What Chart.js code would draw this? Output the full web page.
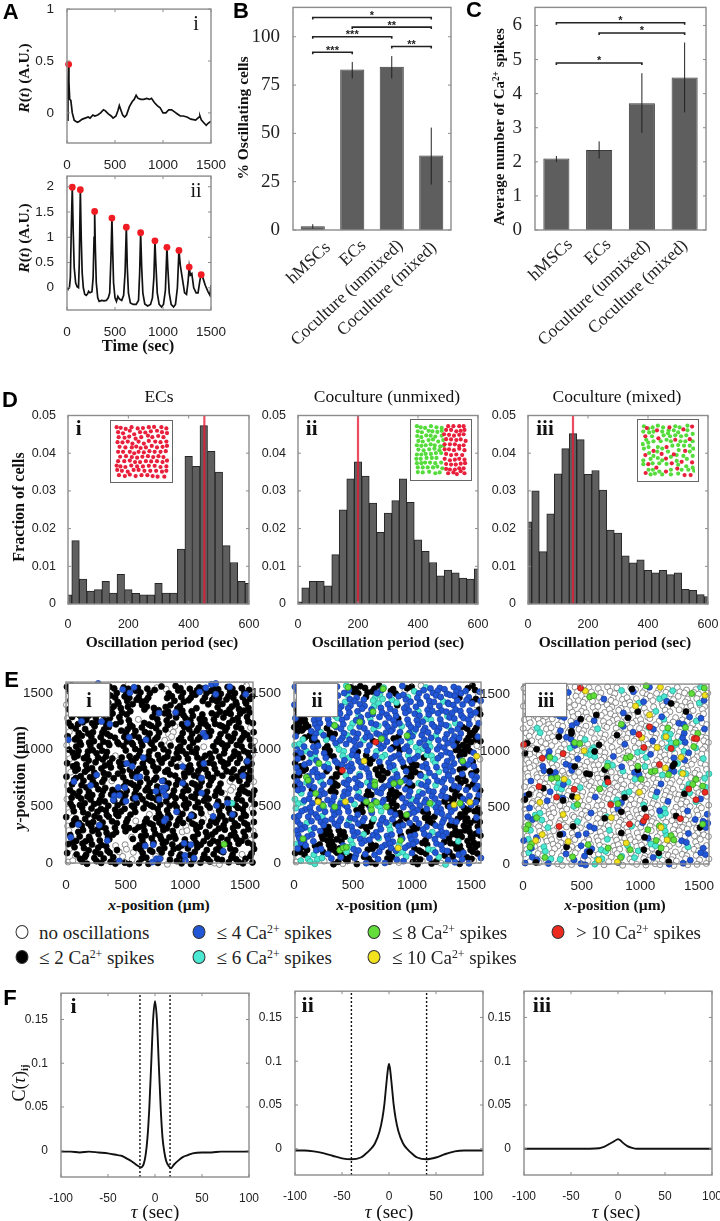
<!DOCTYPE html>
<html><head><meta charset="utf-8">
<script src="https://cdn.jsdelivr.net/npm/chart.js@4/dist/chart.umd.min.js"></script>
<style>
html,body{margin:0;padding:0;background:#fff}
#p{position:relative;width:720px;height:1221px;overflow:hidden;background:#fff}
canvas{position:absolute}
.t{position:absolute;white-space:nowrap;transform:translate(-50%,-50%);color:#111;line-height:1;font-family:"Liberation Serif",serif}
.r{transform:translate(-50%,-50%) rotate(-90deg)}
.b{font-weight:bold}
.L{font-family:"Liberation Sans",sans-serif;font-weight:bold;font-size:22px;color:#000}
.sl{position:absolute;white-space:nowrap;font-family:"Liberation Serif",serif;font-size:17.5px;color:#222;transform-origin:100% 50%;line-height:1}
.box{position:absolute;background:#fff;border:1.3px solid #8a8a8a;box-sizing:border-box;display:flex;align-items:center;justify-content:center;font:bold 20px "Liberation Serif",serif;color:#111;box-shadow:0 0 1px #777}
.ins{position:absolute;background:#fff;border:1.4px solid #666;box-sizing:border-box}
.dot{position:absolute;width:13px;height:14px;border-radius:50%;border:1.5px solid #333;box-sizing:border-box;transform:translate(-50%,-50%)}
sup{font-size:.62em;line-height:0;vertical-align:.5em}
sub{font-size:.6em;line-height:0;vertical-align:-.3em}
</style></head><body><div id="p"></div>
<script>
// ---------- A ----------
const aiTime=[3,10,17,20,28,40,55,75,90,110,130,160,190,220,240,270,290,320,350,380,400,430,460,480,510,530,545,560,580,600,620,650,680,700,720,740,770,800,830,860,880,910,940,970,1000,1030,1060,1090,1120,1150,1180,1210,1250,1290,1340,1375,1385,1400,1430,1450,1470,1500];
const aiVal=[-0.07,0.3,0.468,0.3,0.13,0.12,0.0,-0.07,-0.08,-0.09,-0.08,-0.06,-0.05,-0.04,-0.05,-0.02,-0.03,-0.02,0.0,0.03,0.02,-0.01,-0.03,-0.05,-0.03,0.02,0.07,0.03,-0.02,-0.04,-0.02,0.06,0.11,0.13,0.17,0.14,0.13,0.13,0.14,0.13,0.14,0.1,0.07,0.05,0.0,0.0,0.03,0.03,0.01,-0.01,-0.03,-0.03,-0.04,-0.06,-0.07,-0.04,-0.03,-0.07,-0.1,-0.12,-0.1,-0.08];
const aiPeakT=[17];const aiPeakV=[0.468];
const aiiTime=[0,10,25,35,45,55,65,75,90,105,120,128,139,148,158,170,185,200,215,225,240,260,272,282,288,295,305,320,335,360,385,410,430,445,458,468,475,485,500,515,530,545,570,590,605,618,628,640,660,690,720,745,757,767,778,790,810,840,870,890,905,916,925,940,960,985,1005,1025,1041,1050,1065,1085,1110,1130,1150,1166,1180,1200,1225,1245,1260,1273,1285,1300,1320,1345,1365,1385,1398,1415,1440,1470,1490,1500];
const aiiVal=[0.0,-0.02,0.0,0.2,1.2,1.99,1.1,0.4,0.1,0.02,0.0,0.5,1.94,1.0,0.3,0.0,-0.13,-0.15,-0.12,-0.07,-0.1,-0.08,0.2,1.0,1.51,0.8,0.1,-0.2,-0.27,-0.25,-0.26,-0.25,-0.2,-0.1,0.6,1.38,0.8,0.1,-0.2,-0.27,-0.17,-0.22,-0.25,-0.15,0.3,1.2,0.4,-0.1,-0.3,-0.33,-0.33,-0.25,0.3,1.09,0.4,-0.1,-0.32,-0.36,-0.33,-0.2,0.2,0.93,0.5,-0.1,-0.33,-0.38,-0.33,-0.05,0.8,0.4,-0.1,-0.33,-0.38,-0.33,0.0,0.74,0.45,0.2,-0.1,-0.13,0.1,0.41,0.25,0.28,0.0,-0.1,-0.1,0.15,0.26,0.2,0.05,-0.08,-0.15,0.05];
const aiiPeakT=[55,139,288,468,618,767,916,1041,1166,1273,1398];
const aiiPeakV=[1.99,1.94,1.51,1.38,1.2,1.09,0.93,0.8,0.74,0.41,0.26];
// ---------- B, C ----------
const cats=["hMSCs","ECs","Coculture (unmixed)","Coculture (mixed)"];
const bVals=[2,83,84.5,38.5];
const bErrHi=[3,87,90,53];
const bErrLo=[0.8,78.5,78.5,23.5];
const bBrackets=[[0,3,110,"*"],[1,3,105,"**"],[0,2,100,"***"],[2,3,95,"**"],[0,1,92,"***"]];
const cVals=[2.1,2.35,3.72,4.47];
const cErrHi=[2.17,2.6,4.6,5.5];
const cErrLo=[2.0,2.1,2.85,3.45];
const cBrackets=[[0,3,6.08,"*"],[1,3,5.78,"*"],[0,2,4.9,"*"]];
// ---------- D ----------
const dBins=[0,25,50,75,100,125,150,175,200,225,250,275,300,325,350,375,400,425,450,475,500,525,550,575,600];
const dECs=[.0024,.0168,.0066,.0034,.0038,.006,.0029,.0079,.0038,.0028,.0024,.0024,.0055,.0029,.0029,.0146,.0392,.0365,.0473,.0405,.035,.0155,.011,.006,.0055];
const dUnmixed=[.0006,.0043,.006,.006,.0048,.0131,.025,.0332,.0377,.0339,.0268,.019,.0241,.0274,.0332,.027,.017,.014,.011,.0075,.009,.0083,.0069,.0066,.0093];
const dMixed=[.0218,.03,.0139,.0239,.0345,.0412,.0452,.0436,.0344,.0354,.0302,.0196,.0188,.0128,.0109,.0117,.0089,.0083,.0089,.0078,.0083,.0039,.0036,.0025,.002];
const dMedian=[452,200,150];
// insets: positions
const insRedI=[340,116,354,118,371,122,391,116,412,120,430,119,450,116,468,115,493,116,510,120,345,133,362,137,385,128,400,140,420,133,438,134,457,130,478,128,495,133,512,136,347,150,367,152,383,148,405,155,424,150,447,145,462,150,482,146,500,150,343,167,360,168,378,165,394,172,415,165,433,172,450,163,472,165,490,167,510,165,350,183,370,185,392,185,407,182,422,187,440,185,460,180,478,185,497,183,512,180,345,200,362,200,385,200,400,205,415,200,433,202,452,198,470,200,490,200,508,198,352,217,372,215,392,218,410,220,428,217,447,215,465,218,483,215,500,218,345,232,366,232,385,230,403,235,420,235,440,232,458,233,478,232,497,235,512,230,340,247,353,250,370,252,390,247,410,250,430,250,450,248,470,248,490,252,510,250,342,262,358,265,378,268,398,262,415,262,435,265,455,265,475,265,495,268,510,265,348,280,368,283,385,278,405,283,425,280,445,280,463,283,480,285,503,285];
const insGreenII=[505,112,518,116,533,118,553,112,572,116,590,118,508,130,522,133,545,128,558,130,575,132,590,128,506,146,520,150,537,144,552,145,568,148,590,145,510,163,525,165,545,160,560,158,578,165,595,160,505,178,520,180,535,178,552,175,566,178,585,182,597,180,510,193,528,196,547,192,565,190,582,195,505,210,520,210,535,208,553,208,570,205,588,205,503,225,518,225,538,222,556,222,572,222,505,240,520,240,533,238,550,238,568,240,588,238,508,255,525,255,542,255,560,255,575,252,592,258,508,271,525,272,547,270,568,275,583,272];
const insRedII=[612,112,630,112,650,112,665,112,605,125,622,125,640,130,655,128,668,125,598,140,615,142,632,145,650,142,665,140,605,157,622,158,640,160,655,158,672,163,600,175,618,175,635,175,650,180,665,178,600,192,615,192,632,195,650,190,668,195,605,208,622,212,640,210,660,212,600,225,618,230,635,228,650,225,668,228,605,243,622,245,638,245,655,242,670,240,605,260,618,262,635,262,650,258,665,258,612,275,630,272,642,278,655,268,668,275];
const insRedIII=[487,148,527,128,570,118,618,125,648,115,532,155,590,160,640,158,560,185,515,198,543,208,585,210,624,198,487,212,558,224,612,235,648,237,497,243,578,240,525,255,597,258,558,268,488,273,622,280,643,280,492,120];
const insGreenIII=[482,114,497,122,512,118,530,112,548,118,567,128,590,114,605,118,632,112,480,132,500,135,515,132,545,132,565,138,585,128,600,135,632,128,650,140,490,160,510,148,550,145,572,148,590,145,610,148,628,145,478,175,497,170,515,165,540,165,560,160,575,165,608,165,625,165,650,165,482,190,498,185,530,185,545,190,580,180,600,178,620,180,640,180,652,190,500,205,528,200,565,200,602,195,640,200,515,215,530,222,575,218,595,212,618,215,650,215,480,230,505,225,545,230,595,232,630,225,480,243,512,240,535,240,560,242,600,245,628,250,650,255,498,262,513,262,535,268,575,262,612,262,635,262,505,278,520,275,545,278,575,278,600,275,655,265];
// ---------- E: what sits where, row by row from the top ----------
const eMapI=[
"kk.kk.oo.kk.kk.k.k.oko.kk.k.kk.kk.kk.ko.","k.kk.k.kk.k.k.kk.kk..k.kk.kk.kk.k.kk.kk.",".kk.kk.k.kk.kk.k.k...kk.k.kk.k.kk.kk.k.k","k.k.kk.kk.k.k.kkk.....k.kk..k.kk.k.k.kk.","ok.kk.k.k.kk.kk.kk...kk.k.....k.kk.kk.k.","k.kk.kk.kk.k.k..k.kk.k.kk.kk....k.k.kkk.",".kk.k.kk.k.kk.....k.kk.kk.k.k.kk.kk.k.k.","ok.kk.k.kk.k.k.o..kk.k.k.kk.kk.k.k.kk.k.","k.kk.kk.k.kk.k..kk.k.kk.k.k.kk.kk.k.k.kk",".kk.k.k.kk...kk.k.kk.k.o.kk.k.k..kk.kk.o",
"o.k.kk.kk..kk.k.kk.k.oo.k.kk.kk.kk.k.k.k","k.kk.k.k.kk.k.kk.k.k..o.k.k.k.k.k.kk.kk.",".kk.kk.kk.k.kk.k.kk.oo.kk.kk...kk.k.k.ko","o.kk.k.k.k.kk.k.k.k.k.k.k.k..o.k.kk.kk.k","k.k.kk.kk...k.kk.kk.kk.kk.kk...k.k.k.k.k",".kk.k.k.k.o..k.k.k.k.k.k.k.k.kk.kk.kk.ko","ok.kk.kk.k.k.kk.kk.kk.kk.k.kk.k.k.k.k.k.","k.k.k.k.kk.kk.k.k.k.k.k.o.k.k.kk.kk.k.kk",".kk.kk.k.k.k.k.kk.kk.k.k.kk.kk.k.k.k.kk.","ok.k.k.kk.kk.kk.k.k.kk..kk.k.k.k.kk.k.k.",
"k.kk.kk.k.k.k.kk.k.k...k.k.kk.kk.k.kk.kk",".k.k.k.k.o..kk.k.kk.kk.kk.k.k.k.k.o.k.ko","ok.kk.k.k...k.kk.k.k.k.k.k.kk.k.k..o.kk.","k.k.k.kk.kk.k.k.kk.kk.k.kk.k.k.kk.o.kk.k",".kk.kk.k.k.kk.kk.k.k.kk.k.kk.k.k.o..k.kk","ok.k.k.kk.k.k.k.k.kk.k.k.k.k.kk.k.k.kk.k","k.kk.kk.k.kk.kk.kk.k.kk.kk.k.k.kk.kk.k.k",".k.k.k.kk.k.k.k.k.kk.k.k.k.kk.k.k.k.kk.o","ok.kk.k.k.kk.kk..o.k.k.kk.k.k.o.k.kk.k.k","k.k.k.kk.k.k.k...k.kk.k.k.kk.o..kk.k.kk.",
".kk.kk.k.kk.k.o.kk.k.k.kk.k.k.kk.k.k.k.k","ok.k.k.kk.k.kk.kk.k.kk.k.o.kk.k.kk.kk.k.","o.kk.kk.k.k.k.k.k.k.k.k.oo.k.k.k.k.k.kko","k.k.k.k.kk...o.kk.kk.kk...kk.kk.k.kk.k.k",".ok.kk.k.k....k.k.k.kk.k.k.k.k.kk.k.kk.o","kk.k.k.kk.o.o..kk.k.k.k.kk.kk.k.k.k.k.kk","ok.kk.k.k.k.o.kk.k.kk.kk.k.k.k.kk.kk...k","k.k.k.kk.k.o..o.k.k.k.k.k.kk.k.k.k.k.o.k",".okk.k.k.k.o.o.kk.oo.k.kk.k.kk.kk.kk.kk.","oo.kk.kk.kk.kk.k.k.k.o.kk.k.k.koo.k.kk.k"];
const eMapII=[
"b.o.kkc.bb.ckkkk.kkc.k.bkk.ocb.bb.bb.kk.","bb.b.c.bb.bbkk.kkbb.kk.o.cbb.bb.b.bbb.kb",".b.bb.c.bb.c.b.k.cc.b.bbc.b.b.bb.bbk.b.o","o.bb.b.bb.cbb.b.c.c.cc.bb.b.bb.cb.b.bkkb","bb.b.bb.b.b.b.bb.cc.b.k.b.bb.b.b.bb.b.bo","k.bbb.c.bb.b.bb.b.b.bb.bb.c.bb.bb.bb.b.k","kk.b.bb.cb.b.c.bb.bb.b.b.bb.b.b.cb.b.bbk","bkk.bb.b.cbb.bb.c.b.bbk.b.b.cc.b.bb.bb.o","kkk.bb.bc.b.c.b.bb.b.bb.b.bb.b.bb.cb.b.b","kkkk.b.k.bb.c.bb.cc.bb.c.bb.b.bb.c.bkk.k",
"kk.bbc.kk.b.bb.b.b.bb.b.bc.bb.b.bb.b.kk.","b.kkb.bkb.bc.b.bb.bb.kk.bb.b.bc.b.bb.kkb",".c.kk.c.bb.bb.c.kb.b.bb.c.bbc.b.bbk.kkkk","ccb.bb.k.c.b.bb.b.bb.kk.b.c.bc.bb.bkkk.o","b.c.b.kk.cc.bk.b.cb.b.kbb.ccb.b.b.kkkk..","kb.bc.bkk.c.bb.k.b.c.bb.c.b.cc.b.b.kk.b.","bk.cb.b.b.bc.b.kk.c.b.b.bb.k.cb.bb.b.b.o","k.bb.c.c.bb.b.b.k.b.bb.b.kk.b.c.b.b.bbk.","bkk.b.bb.k.bb.bb.kk.bc.kkk.bb.b.bb.kk.b.","bk.bb.k.kk.b.c.b.kkk.b.bkkk.b.c.bb.b.kk.",
"kk.b.bb.kk.c.bb.b.kk.bb.kk.bc.b.bb.kk.bb","b.cb.c.bk.bb.b.cb.k.bb.bb.c.b.bb.b.kk.b.","kb.bb.b.kk.b.bb.bb.bb.b.kk.bb.c.b.bb.kkb","bb.k.b.kk.bb.c.k.bb.kk.bb.c.bb.b.kk.b.bk",".c.b.bb.b.bb.b.kk.b.kkk.b.bb.b.bb.kk.b.b","c.bb.k.bb.c.b.bb.b.bkk.b.cb.b.b.kkk.bb.k","cc.b.b.b.bb.c.kk.cb.kk.bb.bb.cb.kk.b.bb.","c.bb.bc.bb.b.kk.b.c.kk.b.bb.b.bb.bb.kk.k",".b.bb.b.bb.b.bk.b.c.bbk.bb.kk.bb.b.kk.kk","bb.b.bc.b.b.bb.b.c.b.b.kk.b.kkk.bb.kkk.b",
"b.cb.bb.bb.c.bb.k.bb.kk.b.b.kk.b.bb.kkkk",".bb.b.bk.b.bb.kkk.b.c.bb.kk.b.bb.kk.kk.k","bb.c.bkk.kk.bb.k.bb.c.b.kk.b.c.bb.kkkk.b","b.bb.kkk.kk.b.c.bb.bb.k.bb.bb.bb.kkk.kkk",".bb.b.kkkkk.c.bbb.c.bb.b.bb.k.b.kk.c.kk.","cbb.kk.kk.b.c.b.kk.bb.c.bb.kk.bb.kkk.kkk","bkk.bb.kkk.cbb.kk.b.bb.b.kk.cc.bb.kk.kk.","kkk.c.kb.kkc.b.b.bb.k.cc.b.kk.b.kk.bb.kk","o.c.cc.b.bkkb.kk.b.kkb.c.kk.b.c.bk.bkk.b","oc.cc.o.kkok.k.bkk.bk.ob.kko.kkoc.bk.bo."];
const eMapIII=[
"o.oko.o.oo.o.oo.o.o.oc.oo.ob.o.oco.o.oc.","oo.o.oo.cb.o.oo.o.oo.o.b.oo.o.oo.oo.oo.o",".o.oo.o.oo.o.oo.ob.o.oo.o.oo.cc.oo.o.o.o","o.o.oo.o.o.oo.o.o.oo.oo.cb.o.ob.o.oo.cb.","oo.o.o.oo.oo.o.oo.oo.o.o.oo.o.oo.oo.o.oo",".oo.oo.bb.o.oo.o.oo.ob.oo.o.c.oo.o.oo.o.","o.o.o.bbb.oo.o.oo.oo.oo.o.oo.bo.o.ob.oo.","oo.oo.o.o.o.o.ob.o.oo.o.oo.o.oc.o.oo.cb.o",".o.o.o.oo.bb.o.o.oo.ob.o.oo.o.oo.bb.o.oo.","o.oc.oo.b.o.oo.oc.o.o.oo.o.cb.o.o.o.oo.b","oo.c.o.o.oo.o.o.oo.oo.ob.o.oo.cc.ob.o.o.o",".o.o.oo.obb.oc.o.o.o.oo.o.o.o.cc.ob.oo.o.","oo.oo.o.o.b.oo.oo.o.ob.oo.ob.o.cccb.o.oo.","o.o.o.o.o.cb.o.c.o.o.oo.o.o.oo.cc.oo.c.oo",".oo.ob.oo.oo.cc.oo.oo.o.cc.o.oo.o.cb.oo.b","oo.o.b.o.oo.o.cc.o.b.oo.o.cb.oo.b.oo.oo.o","o.oo.oc.oo.b.oo.o.o.o.oo.oo.o.oo.ob.o.c.o",".oo.b.oo.bb.oo.oo.cc.b.oo.c.oo.o.c.oo.oo.","oo.ob.o.o.b.oo.o.oo.oc.o.oo.oo.bb.oo.o.oo","o.oo.bb.oo.o.o.oo.o.oo.bb.oo.c.o.cc.oo.cc",
".o.o.oo.oo.o.oo.o.o.oo.oc.o.oo.oo.o.oo.c","ob.oo.ocbc.o.oo.oc.o.o.oo.o.ob.o.o.c.oo.","o.o.oo.cc.ooc.oo.oo.oo.o.oo.oo.oo.oc.o.cc",".o.oob.o.o.oo.o.o.oo.cc.oo.ob.o.o.cc.oo.c","bo.o.o.cbo.oo.ob.oo.o.oo.o.oc.oo.oo.o.oo.","o.oo.b.o.o.oo.o.o.o.cb.o.oo.o.ob.ooo.cb.o",".oo.oo.o.oc.oo.oo.c.o.oo.c.oo.o.oo.o.o.oo","ob.oo.o.oo.o.o.o.o.ob.o.oo.o.bc.o.ob.oo.o","o.cc.oo.o.o.oob.oo.o.oo.oo.o.cc.o.oo.o.bb",".bb.c.o.oo.oo.o.o.c.oo.o.o.oo.o.oo.o.b.oo",
"o.o.oo.oo.oc.o.oo.o.oo.oob.oo.o.oo.oo.bb","oo.o.c.o.o.oo.bb.oo.o.oc.o.o.oc.o.oo.o.b",".c.oo.o.b.oo.bo.o.c.o.o.o.oo.oc.oo.b.oo.","o.b.oo.oo.ob.o.oo.oo.oo.o.b.o.cc.oo.o.oo","bc.o.oo.o.oo.oo.o.c.oo.oo.o.oo.oo.bb.oo.",".oo.c.oo.oo.b.o.oo.oo.c.oo.cc.oo.o.c.o.o","ob.oc.o.oo.o.bb.cc.oo.o.c.oo.oo.o.o.oob.","oc.oo.o.ob.o.b.oo.o.oc.oo.o.oc.oo.oo.obb",".bb.oc.c.ob.oo.cc.o.o.oc.oob.o.oo.ob.o.o","bo.o.b.oo.o.bb.c.oo.bo.oo.o.oo.bo.bo.o.o"];
const eRowShift=[.2,.75,.4,.95,.1,.6,.85,.3,.55,.05,.7,.35,.9,.15,.65,.45,.8,.25,.5,1,.1,.7,.3,.85,.55,.2,.95,.4,.65,.05,.75,.35,.6,.9,.15,.5,.8,.25,1,.45];
const eColShift=[.3,0,.6,.2,.7,.4,.1,.5,.8,.25,.65,.05,.45,.75,.15,.55,.35,.7,0,.5,.2,.8,.4,.1,.6,.3,.75,.05,.45,.65,.2,.55,.85,.1,.35,.7,.25,.6,0,.4];
const eIBlue=[270,1583,475,1530,570,1550,535,1500,1120,1508,1172,1545,1220,1575,1255,1583,1372,1554,1255,1487,1506,1487,780,1322,918,1328,1018,1232,130,1250,298,1247,368,1224,1150,1145,1170,1113,530,1108,670,1087,20,1087,647,928,508,878,555,852,977,850,1155,878,1518,898,257,777,592,754,620,760,1136,748,1484,770,67,718,206,684,438,666,494,666,806,724,977,704,806,660,834,666,753,632,815,632,1136,617,405,594,446,597,396,556,502,545,583,574,781,562,834,594,1261,507,1353,530,926,452,1049,417,1233,411,1395,428,837,391,823,370,103,339,279,333,39,226,346,197,664,151,731,162,990,174,1046,162,1317,104,996,67,1001,23,1074,43,726,9,759,38,787,38,446,17];
const eICyan=[1390,527];
const eIGreen=[1325,165];
const eIIRed=[693,1066,410,817];
const eIIYellow=[594,899,204,541,436,541,1356,513,1491,536,1548,942,883,133];
const eIIGreen=[458,1549,755,1535,670,1334,557,1244,345,1212,959,1123,741,1095,212,879,105,757,119,729,685,714,685,686,846,700,903,714,184,613,246,507,345,495,614,541,656,507,656,469,699,536,784,495,1152,527,954,426,1407,527,1429,899,76,213,388,113,416,133,444,139,903,199];
const eIIIRed=[107,1569,490,1555,6,1056,342,975,164,935,136,684,286,591,436,660,308,332,724,724,747,525,908,352,1027,381,1050,415,988,1145,1078,1212,1030,1030,1262,1021,1163,880,1460,1110,1480,1108,1412,663,1474,568,1551,634,1341,401];
const eIIIYellow=[532,1529,1171,1563,1551,1491,959,1396,1078,1318,1013,1116,1143,1030,1219,1125,521,1001,1347,943,1214,848,351,750,1361,799,993,634,464,588,144,545,342,438,753,410,1177,323,164,260,108,208,385,199,1228,213,880,185,645,35,804,17];
const eIIIGreen=[569,1477,603,1488,1050,1575,1545,1555,1438,1506,838,1235,1384,1206,1234,1203,1489,1154,1455,1038,1305,1073,441,1073,484,1064,229,943,880,937,914,949,719,865,979,865,1092,816,1126,822,1240,790,243,755,291,761,1007,750,654,663,1474,747,1531,689,1446,703,464,525,809,533,116,409,45,346,25,308,1064,303,1163,337,1531,352,74,179,60,150,1135,208,1262,251,1285,213,555,170,725,141,1177,141,914,127,832,58,187,58,422,63];
const eIIIBlack=[928,1546,1262,1419,1389,1347,979,1347,625,1318,894,1292,492,1281,413,1174,413,1154,306,1125,37,1067,17,978,116,1015,648,1053,611,995,801,1139,979,834,1276,865,1290,885,441,862,229,819,696,834,540,799,569,793,716,755,173,669,51,617,17,571,342,562,422,597,866,588,1375,620,1036,490,838,461,696,404,1305,424,427,332,838,274,1508,323,314,260,1036,236,1030,127,371,150,569,107,1157,98,1242,20,110,14,1044,20];
// ---------- F ----------
const fTauI=[-100,-90,-80,-70,-60,-50,-40,-35,-30,-25,-20,-17,-15,-12,-10,-8,-6,-4,-2,0,2,4,6,8,10,12,15,17,20,25,30,35,40,50,60,70,80,90,100];
const fCI=[-.001,-.001,-.002,-.001,-.002,-.003,-.005,-.006,-.009,-.012,-.016,-.018,-.019,-.015,-.005,.015,.05,.1,.15,.171,.15,.1,.05,.015,-.002,-.012,-.018,-.02,-.016,-.011,-.007,-.005,-.003,-.002,-.002,-.001,-.001,-.001,-.001];
const fTauII=[-100,-90,-80,-70,-60,-50,-40,-30,-25,-20,-15,-10,-7,-5,-3,-1,0,1,3,5,7,10,15,20,25,30,40,50,60,70,80,90,100];
const fCII=[-.002,-.002,-.003,-.005,-.008,-.011,-.012,-.01,-.006,-.001,.006,.02,.035,.05,.072,.092,.097,.092,.072,.05,.035,.02,.006,-.001,-.006,-.01,-.012,-.01,-.006,-.003,-.002,-.002,-.002];
const fTauIII=[-100,-60,-30,-20,-15,-10,-5,-2,0,2,5,10,15,20,30,60,100];
const fCIII=[0,0,0,.0005,.002,.005,.008,.01,.011,.01,.007,.003,.001,0,0,0,0];
const fMarkI=[-16,16];const fMarkII=[-40,40];
const fTicksY=[0,.05,.1,.15];const fTicksX=[-100,-50,0,50,100];
const legendRows=[["no oscillations","#fff",21.6,932],["≤ 2 Ca<sup>2+</sup> spikes","#000",21.6,956.7],["≤ 4 Ca<sup>2+</sup> spikes","#2156d6",199,932],["≤ 6 Ca<sup>2+</sup> spikes","#4be8d4",199,956.7],["≤ 8 Ca<sup>2+</sup> spikes","#62dd3a",374.4,932],["≤ 10 Ca<sup>2+</sup> spikes","#f2e21e",374.4,956.7],["&gt; 10 Ca<sup>2+</sup> spikes","#ec2a20",558.4,932]];

// ---------- helpers ----------
const page=document.getElementById('p');
Chart.defaults.animation=false;
Chart.defaults.responsive=false;
Chart.defaults.devicePixelRatio=1;
Chart.defaults.font.family='"Liberation Sans",sans-serif';
Chart.defaults.color='#222';
Chart.defaults.plugins.legend.display=false;
Chart.defaults.plugins.tooltip.enabled=false;
const GRAY='#8c8c8c';
const frame={id:'frame',afterDatasetsDraw(c,a,o){
  const {left:l,right:r,top:t,bottom:b}=c.chartArea,g=c.ctx;g.save();
  g.strokeStyle=GRAY;g.lineWidth=1.4;g.strokeRect(l,t,r-l,b-t);g.lineWidth=1;
  (c.scales.y.ticks||[]).forEach(k=>{const y=c.scales.y.getPixelForValue(k.value);g.beginPath();g.moveTo(l,y);g.lineTo(l+3,y);g.moveTo(r,y);g.lineTo(r-3,y);g.stroke();});
  if(!o.noX)(c.scales.x.ticks||[]).forEach(k=>{const x=c.scales.x.getPixelForValue(k.value);g.beginPath();g.moveTo(x,b);g.lineTo(x,b-3);g.moveTo(x,t);g.lineTo(x,t+3);g.stroke();});
  g.restore();
}};
const annot={id:'annot',afterDatasetsDraw(c,a,o){
  if(!o.hi)return;
  const g=c.ctx,x=c.scales.x,y=c.scales.y;g.save();g.strokeStyle='#222';g.lineWidth=1;
  o.hi.forEach((h,i)=>{const px=x.getPixelForValue(i);g.beginPath();g.moveTo(px,y.getPixelForValue(h));g.lineTo(px,y.getPixelForValue(o.lo[i]));g.stroke();});
  g.lineWidth=1.6;g.fillStyle='#222';g.textAlign='center';g.textBaseline='middle';g.font='bold 11px "Liberation Sans"';
  o.br.forEach(([a0,b0,v,s])=>{const x0=x.getPixelForValue(a0),x1=x.getPixelForValue(b0),p=y.getPixelForValue(v);
    g.beginPath();g.moveTo(x0,p+2);g.lineTo(x0,p);g.lineTo(x1,p);g.lineTo(x1,p+2);g.stroke();
    g.fillText(s,(x0+x1)/2,p-1.5);});
  g.restore();
}};
function canvasFor(x0,y0,x1,y1,m){
  const c=document.createElement('canvas');c.width=x1-x0+m.L+m.R;c.height=y1-y0+m.T+m.B;
  c.style.left=(x0-m.L)+'px';c.style.top=(y0-m.T)+'px';page.appendChild(c);return c;
}
function scale(min,max,ticks,m,axis,font,pad,color,extra){
  return Object.assign({type:'linear',min,max,offset:false,grid:{display:false},border:{display:false},
    afterBuildTicks:s=>{s.ticks=ticks.map(v=>({value:v}));},
    afterFit:s=>{if(axis==='y')s.width=m.L;else s.height=m.B;},
    ticks:{font,padding:pad,color:color||'#222',autoSkip:false,maxRotation:0,minRotation:0,callback:v=>String(v)}},extra||{});
}
const M={L:46,T:10,R:24,B:30};
function xy(xs,ys){return xs.map((v,i)=>({x:v,y:ys[i]}));}
function pairs(a){const o=[];for(let i=0;i<a.length;i+=2)o.push({x:a[i],y:a[i+1]});return o;}
function text(html,x,y,size,cls,extra){const d=document.createElement('div');d.className='t '+(cls||'');d.innerHTML=html;d.style.left=x+'px';d.style.top=y+'px';d.style.fontSize=size+'px';if(extra)Object.assign(d.style,extra);page.appendChild(d);return d;}
const tickFontA={size:13.5};

// ---------- A ----------
function lineWithPeaks(rect,t,v,pt,pv,ymin,ymax,yt){
  const c=canvasFor(...rect,M);
  new Chart(c,{type:'line',plugins:[frame],data:{datasets:[
    {data:xy(pt,pv),showLine:false,pointRadius:3.4,pointBackgroundColor:'#f01c24',pointBorderWidth:0,clip:false},
    {data:xy(t,v),borderColor:'#111',borderWidth:1.7,pointRadius:0,tension:0}]},
    options:{layout:{padding:{top:M.T,right:M.R}},scales:{x:scale(0,1500,[0,500,1000,1500],M,'x',tickFontA,6),y:scale(ymin,ymax,yt,M,'y',tickFontA,5)}}});
}
lineWithPeaks([67,6,211,143],aiTime,aiVal,aiPeakT,aiPeakV,-0.29,1,[0,.5,1]);
lineWithPeaks([67,173,211,310],aiiTime,aiiVal,aiiPeakT,aiiPeakV,-0.44,2.21,[0,.5,1,1.5,2]);
text('<i>R</i>(<i>t</i>) (A.U.)',24,78,15.5,'r b');
text('<i>R</i>(<i>t</i>) (A.U.)',24,238,15.5,'r b');
text('Time (sec)',138,346,16.5,'b');
text('i',196,23,20);text('ii',196,190,20);

// ---------- B, C ----------
function bars(rect,vals,hi,lo,br,ymax,yt){
  const m={L:50,T:14,R:10,B:24};
  const c=canvasFor(...rect,m);
  new Chart(c,{type:'bar',plugins:[frame,annot],data:{labels:cats,datasets:[{data:vals,backgroundColor:'#5e5e5e',borderColor:'#3a3a3a',borderWidth:1,barPercentage:.61,categoryPercentage:1}]},
    options:{layout:{padding:{top:m.T,right:m.R}},plugins:{frame:{noX:true},annot:{hi,lo,br}},
    scales:{x:{type:'category',offset:true,grid:{display:false},border:{display:false},ticks:{display:false},afterFit:s=>{s.height=m.B;}},
            y:scale(0,ymax,yt,m,'y',{family:'"Liberation Serif",serif',size:19},5,'#222')}}});
}
bars([293,5,451,230],bVals,bErrHi,bErrLo,bBrackets,115.2,[0,25,50,75,100]);
bars([535,5,706,230],cVals,cErrHi,cErrLo,cBrackets,6.53,[0,1,2,3,4,5,6]);
const bEnds=[[328,245],[363,243],[400,243],[434,245]],cEnds=[[570,242],[608,242],[647,243],[685,243]];
[bEnds,cEnds].forEach(ends=>ends.forEach((e,i)=>{
  const d=document.createElement('div');d.className='sl';d.textContent=cats[i];
  d.style.right=(720-e[0])+'px';d.style.top=(e[1]-9)+'px';d.style.transform='rotate(-43deg)';page.appendChild(d);
}));
text('% Oscillating cells',243,118,15.5,'r b');
text('Average number of Ca<sup>2+</sup> spikes',499,127,15,'r b');

// ---------- D ----------
function hist(rect,vals,med){
  const c=canvasFor(...rect,M);
  new Chart(c,{type:'bar',plugins:[frame],data:{datasets:[
    {type:'line',data:[{x:med,y:0},{x:med,y:.05}],borderColor:'rgba(232,24,52,.78)',borderWidth:2.2,pointRadius:0,order:0},
    {data:xy(dBins,vals),backgroundColor:'#5f5f5f',borderColor:'#262626',borderWidth:1,barPercentage:1,categoryPercentage:1,grouped:false,order:1}]},
    options:{layout:{padding:{top:M.T,right:M.R}},scales:{x:scale(0,600,[0,200,400,600],M,'x',{size:12.5},5),y:scale(0,.05,[0,.01,.02,.03,.04,.05],M,'y',{size:12.5},4)}}});
}
hist([68,414,249,604],dECs,dMedian[0]);
hist([298,414,478,604],dUnmixed,dMedian[1]);
hist([528,414,708,604],dMixed,dMedian[2]);
text('ECs',159,397,17.5);text('Coculture (unmixed)',387,397,17.5);text('Coculture (mixed)',617,397,17.5);
text('Fraction of cells',19,507,16,'r b');
[162,388,615].forEach(x=>text('Oscillation period (sec)',x,642,15.5,'b'));
text('i',78.7,428,21,'b');text('ii',311.7,428,21,'b');text('iii',545,428,21,'b');
function inset(x,y,w,h,zx,zy,zw,zh,sets){
  const f=document.createElement('div');f.className='ins';f.style.cssText=`left:${x}px;top:${y}px;width:${w}px;height:${h}px`;page.appendChild(f);
  const c=document.createElement('canvas');c.width=w;c.height=h;c.style.left=x+'px';c.style.top=y+'px';page.appendChild(c);
  new Chart(c,{type:'scatter',data:{datasets:sets.map(s=>({data:pairs(s[0]),pointBackgroundColor:s[1],pointBorderWidth:0,pointRadius:2.1}))},
    options:{layout:{padding:0},scales:{x:{type:'linear',min:zx,max:zx+zw,display:false},y:{type:'linear',min:zy,max:zy+zh,reverse:true,display:false}}}});
}
inset(110,420,63,63,331,105,188,188,[[insRedI,'#e8203c']]);
inset(410,419,62,62,495,101,185,187,[[insRedII,'#e8203c'],[insGreenII,'#55dc3c']]);
inset(637,419,62,63,472,103,186,187,[[insRedIII,'#e8203c'],[insGreenIII,'#55dc3c']]);

// ---------- E ----------
const CLS={o:'#fff',k:'#000',b:'#2156d6',c:'#4be8d0',g:'#62dd3a',y:'#f2e21e',r:'#ec2a20'};
const EDGE={o:'#707070',k:'#000',b:'#1a3fa0',c:'#2aa898',g:'#2f9a20',y:'#9a9010',r:'#9a1a14'};
const CELL=39.6;
function mapToSets(map){const s={o:[],k:[],b:[],c:[]};map.forEach((row,r)=>{[...row].forEach((ch,i)=>{if(s[ch]){s[ch].push((i+eRowShift[r])*CELL,1565-(r+eColShift[i])*CELL);}});});return s;}
function field(rect,xmax,ymax,map,extra){
  const c=canvasFor(...rect,M),s=mapToSets(map);
  const ds=(a,k)=>({data:pairs(a),pointRadius:3,pointBackgroundColor:CLS[k],pointBorderColor:EDGE[k],pointBorderWidth:.8,clip:false});
  // the first dataset listed is painted last
  const sets=extra.map(e=>ds(e[0],e[1])).concat(['b','c','k','o'].map(k=>ds(s[k],k)));
  new Chart(c,{type:'scatter',plugins:[frame],data:{datasets:sets},
    options:{layout:{padding:{top:M.T,right:M.R}},scales:{x:scale(0,xmax,[0,500,1000,1500],M,'x',{size:13.5},6),y:scale(0,ymax,[0,500,1000,1500],M,'y',{size:13.5},5)}}});
}
field([66,679,253,863],1567,1595,eMapI,[[eIBlue,'b'],[eICyan,'c'],[eIGreen,'g']]);
field([294,679,481,863],1585,1595,eMapII,[[eIIRed,'r'],[eIIYellow,'y'],[eIIGreen,'g']]);
field([523,681,709,864],1585,1590,eMapIII,[[eIIIRed,'r'],[eIIIYellow,'y'],[eIIIGreen,'g'],[eIIIBlack,'k']]);
[[68,683,'i'],[296,683,'ii'],[525,683,'iii']].forEach(b=>{const d=document.createElement('div');d.className='box';d.style.cssText=`left:${b[0]}px;top:${b[1]}px;width:42px;height:34px`;d.textContent=b[2];page.appendChild(d);});
text('<i>y</i>-position (µm)',20,778,16,'r b');
[159,387,615].forEach(x=>text('<i>x</i>-position (µm)',x,905,15.5,'b'));
legendRows.forEach(r=>{const d=document.createElement('div');d.className='dot';d.style.left=r[2]+'px';d.style.top=r[3]+'px';d.style.background=r[1];page.appendChild(d);
  const t=text(r[0],r[2]+17.5,r[3],19);t.style.transform='translate(0,-50%)';t.style.color='#222';});

// ---------- F ----------
function corr(rect,tau,cv,marks){
  const c=canvasFor(...rect,M);
  const ds=[{data:xy(tau,cv),borderColor:'#111',borderWidth:1.9,pointRadius:0,cubicInterpolationMode:'monotone'}];
  marks.forEach(v=>ds.push({data:[{x:v,y:-.03},{x:v,y:.18}],borderColor:'#111',borderWidth:1.4,borderDash:[2,2],pointRadius:0}));
  const f={size:12};
  new Chart(c,{type:'line',plugins:[frame],data:{datasets:ds},options:{layout:{padding:{top:M.T,right:M.R}},
    scales:{x:scale(-100,100,fTicksX,M,'x',f,6),y:scale(-.03,.18,fTicksY,M,'y',f,5)}}});
}
corr([61,991,249,1177],fTauI,fCI,fMarkI);
corr([295,989,483,1175],fTauII,fCII,fMarkII);
corr([524,989,712,1175],fTauIII,fCIII,[]);
text('C(<i>τ</i>)<sub><b>ij</b></sub>',19,1083,18,'r');
[[155,1211],[389,1211],[616,1211]].forEach(p=>text('<i>τ</i> (sec)',p[0],p[1],19));
text('i',73.6,1006,22,'b');text('ii',307.7,1005,22,'b');text('iii',542,1005,22,'b');

// ---------- panel letters ----------
[['A',10.7,12],['B',241,11],['C',474,10],['D',10,400],['E',11.7,680],['F',10,998]].forEach(l=>text(l[0],l[1],l[2],22,'L'));
</script></body></html>
